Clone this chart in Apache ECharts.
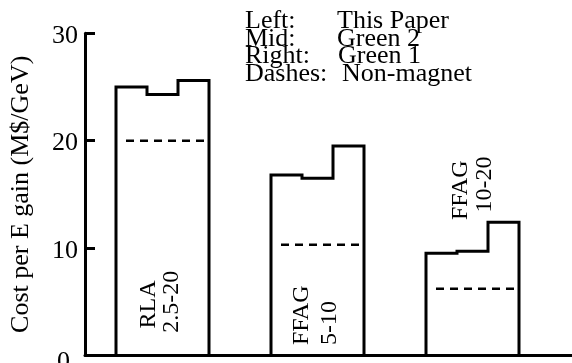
<!DOCTYPE html>
<html>
<head>
<meta charset="utf-8">
<script src="https://cdn.jsdelivr.net/npm/echarts@6/dist/echarts.min.js"></script>
<style>
html,body{margin:0;padding:0;background:#fff;}
#chart{width:572px;height:363px;}
</style>
</head>
<body>
<div id="chart"></div>
<script>
// ---- data ----
const groupNames   = ['RLA', 'FFAG', 'FFAG'];
const groupRanges  = ['2.5-20', '5-10', '10-20'];
const thisPaper    = [25.0, 16.8, 9.5];   // left bar
const green2       = [24.3, 16.5, 9.7];   // middle bar
const green1       = [25.6, 19.5, 12.4];  // right bar
const nonMagnet    = [20.0, 10.3, 6.2];   // dashes
const yTicks       = [0, 10, 20, 30];
const legendKeys   = ['Left:', 'Mid:', 'Right:', 'Dashes:'];
const legendVals   = ['This Paper', 'Green 2', 'Green 1', 'Non-magnet'];

// ---- layout (not data) ----
const FONT = '"Liberation Serif", "Times New Roman", serif';
const barW = 0.2;                 // width of one bar in x-axis units
// label anchors: [dx px of name, y value of name start, dx px of range, y value of range start]
const labelAnchors = [
  [-14, 2.5, 9, 2.1],
  [-16, 0.95, 12, 0.95],
  [-12, 12.6, 12, 13.3]
];
const legendValX = [337, 337, 338, 342];

const seriesData = groupNames.map((n, i) => [i + 0.5, thisPaper[i], green2[i], green1[i], nonMagnet[i]]);

const chart = echarts.init(document.getElementById('chart'), null, {renderer: 'canvas'});

const legendGraphics = [];
legendKeys.forEach((k, i) => {
  legendGraphics.push({type: 'text', x: 245, y: 21.5 + i * 17.5, silent: true,
    style: {text: k, font: '26px ' + FONT, fill: '#000', verticalAlign: 'middle', align: 'left'}});
  legendGraphics.push({type: 'text', x: legendValX[i], y: 21.5 + i * 17.5, silent: true,
    style: {text: legendVals[i], font: '26px ' + FONT, fill: '#000', verticalAlign: 'middle', align: 'left'}});
});

const option = {
  animation: false,
  backgroundColor: '#fff',
  grid: {left: 85, right: 0, top: 33.3, bottom: 7.7, containLabel: false, outerBoundsMode: 'none'},
  xAxis: {
    type: 'value', min: 0, max: 487 / 155,
    axisLine: {show: true, onZero: false, lineStyle: {color: '#000', width: 3}},
    axisTick: {show: false}, axisLabel: {show: false}, splitLine: {show: false}
  },
  yAxis: {
    type: 'value', min: yTicks[0], max: yTicks[yTicks.length - 1], interval: 10,
    name: 'Cost per E gain (M$/GeV)',
    nameLocation: 'middle', nameRotate: 90, nameGap: 51,
    nameTextStyle: {fontFamily: FONT, fontSize: 26, color: '#000'},
    axisLine: {show: true, lineStyle: {color: '#000', width: 3}},
    axisTick: {show: true, inside: true, length: 10, lineStyle: {color: '#000', width: 3}},
    axisLabel: {
      margin: 7, fontFamily: FONT, fontSize: 26, color: '#000',
      formatter: function (val) { return val === 0 ? '{z|0}' : '{n|' + val + '}'; },
      rich: {
        n: {fontFamily: FONT, fontSize: 26, color: '#000', padding: [6, 0, 0, 0]},
        z: {fontFamily: FONT, fontSize: 26, color: '#000', padding: [14, 8, 0, 0]}
      }
    },
    splitLine: {show: false}
  },
  series: [{
    type: 'custom',
    clip: false,
    data: seriesData,
    renderItem: function (params, api) {
      const i = params.dataIndex;
      const c = api.value(0);
      const v = [api.value(1), api.value(2), api.value(3)];
      const d = api.value(4);
      const xs = [c - 1.5 * barW, c - 0.5 * barW, c + 0.5 * barW, c + 1.5 * barW];
      const pts = [api.coord([xs[0], 0])];
      for (let k = 0; k < 3; k++) {
        pts.push(api.coord([xs[k], v[k]]));
        pts.push(api.coord([xs[k + 1], v[k]]));
      }
      pts.push(api.coord([xs[3], 0]));
      const dl = api.coord([xs[0], d]);
      const dr = api.coord([xs[3], d]);
      const cp = api.coord([c, 0]);
      const la = labelAnchors[i];
      const p1 = api.coord([c, la[1]]);
      const p2 = api.coord([c, la[3]]);
      return {
        type: 'group',
        children: [
          {type: 'polyline', shape: {points: pts},
           style: {stroke: '#000', lineWidth: 3, fill: null, lineJoin: 'miter'}},
          {type: 'line', shape: {x1: dl[0] + 10, y1: dl[1], x2: dr[0] - 1.5, y2: dr[1]},
           style: {stroke: '#000', lineWidth: 2.5, lineDash: [8, 6]}},
          {type: 'text', x: cp[0] + la[0], y: p1[1], rotation: Math.PI / 2,
           style: {text: groupNames[i], x: 0, y: 0, align: 'left', verticalAlign: 'middle',
                   font: '24px ' + FONT, fill: '#000'}},
          {type: 'text', x: cp[0] + la[2], y: p2[1], rotation: Math.PI / 2,
           style: {text: groupRanges[i], x: 0, y: 0, align: 'left', verticalAlign: 'middle',
                   font: '24px ' + FONT, fill: '#000'}}
        ]
      };
    }
  }],
  graphic: legendGraphics
};
chart.setOption(option);
</script>
</body>
</html>
